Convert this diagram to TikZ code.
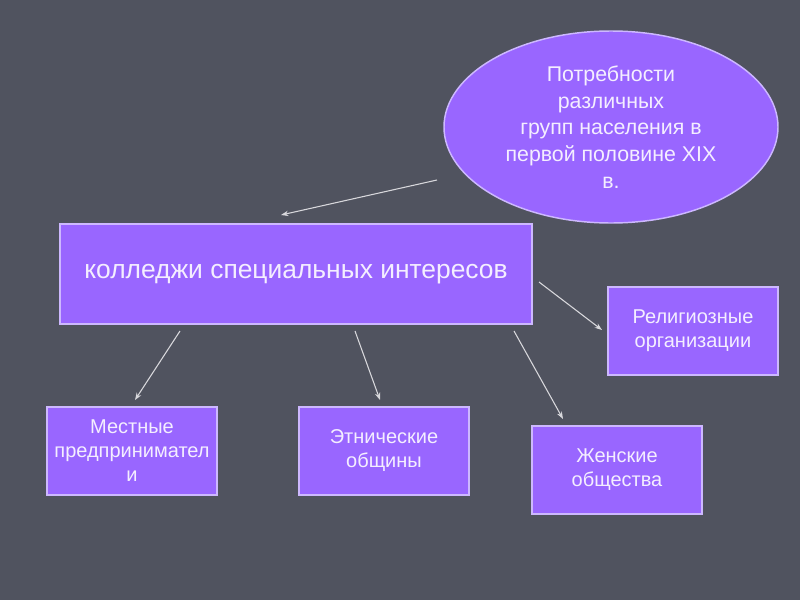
\documentclass[tikz,border=0pt]{standalone}
\usepackage{fontspec}
\setmainfont{Liberation Sans}
\usetikzlibrary{arrows.meta,shapes.geometric}
\definecolor{bg}{HTML}{50535F}
\definecolor{fillp}{HTML}{9966FF}
\definecolor{edgep}{HTML}{CDB8FF}
\definecolor{txt}{HTML}{F4EEFF}
\definecolor{arr}{HTML}{D8D8DC}
\begin{document}
\begin{tikzpicture}[x=0.75pt,y=-0.75pt,
  box/.style={draw=edgep,line width=1.1pt,fill=fillp,text=txt,align=center,inner sep=0pt,
    minimum width=127.5pt,minimum height=66pt,font=\fontsize{15}{18}\selectfont},
  conn/.style={draw=arr,line width=0.8pt,-{Stealth[length=5.5pt,width=4pt]}}]
\fill[bg] (0,0) rectangle (800,600);
\useasboundingbox (0,0) rectangle (800,600);
\node[ellipse,draw=edgep,line width=1.1pt,fill=fillp,text=txt,align=center,inner sep=0pt,
  minimum width=250.5pt,minimum height=144pt,font=\fontsize{16}{20}\selectfont] (need) at (611,127)
  {Потребности\\различных\\групп населения в\\первой половине XIX\\в.};
\node[box,minimum width=354pt,minimum height=75pt,font=\fontsize{19.8}{22}\selectfont] (main) at (296,274)
  {колледжи специальных интересов};
\node[box] (rel) at (693,331) {Религиозные\\организации};
\node[box] (loc) at (132,451) {Местные\\предпринимател\\и};
\node[box] (eth) at (384,451) {Этнические\\общины};
\node[box] (wom) at (617,470) {Женские\\общества};
\coordinate (a1s) at (437,180); \coordinate (a1e) at (281,215);
\coordinate (a2s) at (539,282); \coordinate (a2e) at (602,330);
\coordinate (a3s) at (180,331); \coordinate (a3e) at (135,400);
\coordinate (a4s) at (355,331); \coordinate (a4e) at (380,400);
\coordinate (a5s) at (514,331); \coordinate (a5e) at (563,419);
\draw[conn] (a1s) -- (a1e);
\draw[conn] (a2s) -- (a2e);
\draw[conn] (a3s) -- (a3e);
\draw[conn] (a4s) -- (a4e);
\draw[conn] (a5s) -- (a5e);
\end{tikzpicture}
\end{document}
